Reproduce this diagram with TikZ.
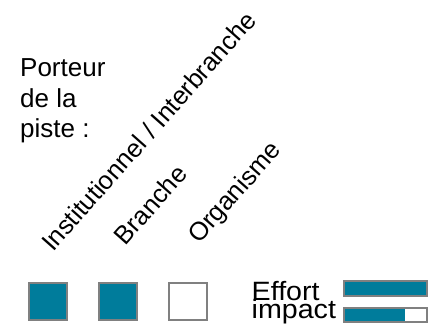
\documentclass[tikz,border=0pt]{standalone}
\usepackage{fontspec}
\setmainfont{Liberation Sans}
\definecolor{barfill}{RGB}{0,124,155}
\definecolor{framegray}{RGB}{128,128,128}
\begin{document}
\begin{tikzpicture}[x=1pt,y=-1pt,
  label/.style={font=\fontsize{26}{30}\selectfont, inner sep=0pt, anchor=base west},
  colhead/.style={label, font=\fontsize{25.6}{30}\selectfont, rotate=48.5},
  legend/.style={label, font=\fontsize{26.5}{30}\selectfont, xscale=1.08},
  tick/.style={draw=framegray, line width=2pt, minimum size=37.4pt, inner sep=0pt},
  on/.style={tick, fill=barfill},
  off/.style={tick, fill=white},
  gauge/.style={draw=framegray, line width=2pt}]
\useasboundingbox (0,0) rectangle (433,331);

% title of the row
\node[label] (t1) at (20,76.7) {Porteur};
\node[label] (t2) at (20,107.5) {de la};
\node[label] (t3) at (20,138) {piste :};

% slanted column headings
\node[colhead] (h1) at (53,253) {Institutionnel / Interbranche};
\node[colhead] (h2) at (125.5,246.5) {Branche};
\node[colhead] (h3) at (199,245) {Organisme};

% one box per heading
\node[on]  (b1) at (48,301.2) {};
\node[on]  (b2) at (118,301.2) {};
\node[off] (b3) at (188,301.2) {};

% effort / impact gauges
\node[legend] (eff) at (251.5,300) {Effort};
\node[legend] (imp) at (251.5,318.5) {impact};
\coordinate (g1a) at (343.7,281);
\coordinate (g1b) at (427.3,295.7);
\coordinate (g2a) at (343.7,307.7);
\coordinate (g2b) at (427.3,322.3);
\coordinate (g2m) at (405,322.3);
\fill[barfill] (g1a) rectangle (g1b);
\draw[gauge] (g1a) rectangle (g1b);
\fill[white] (g2a) rectangle (g2b);
\fill[barfill] (g2a) rectangle (g2m);
\draw[gauge] (g2a) rectangle (g2b);
\end{tikzpicture}
\end{document}
